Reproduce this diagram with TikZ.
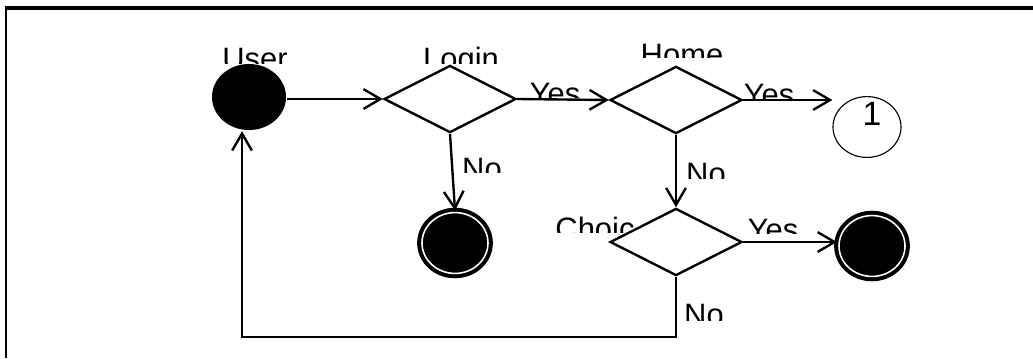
\documentclass[tikz,border=0pt]{standalone}
\usepackage{fontspec}
\setmainfont{Liberation Sans}
\usetikzlibrary{arrows.meta, shapes.geometric}

\begin{document}
\begin{tikzpicture} [x=0.025cm, y=-0.025cm,
          line width = 1.7pt,
          arr/.style = {-{Straight Barb[length=12pt, width=14pt]}},
          start/.style = {ellipse, fill = black, inner sep = 0pt,
              minimum width = 1.85cm, minimum height = 1.65cm},
          decision/.style = {diamond, draw, inner sep = 0pt,
              minimum width = 3.3cm, minimum height = 1.68cm},
          stop/.style = {ellipse, draw, fill = black, inner sep = 0pt,
              line width = 2.9pt, double = white, double distance = 1.1pt,
              minimum width = 1.65cm, minimum height = 1.52cm},
          conn/.style = {ellipse, draw, line width = 0.8pt, inner sep = 0pt,
              minimum width = 1.7cm, minimum height = 1.52cm},
          lbl/.style = {anchor = base, inner sep = 0pt,
              font = \fontsize{22}{26}\selectfont}
          ]
          \useasboundingbox (0,0) rectangle (1033,358);

          % frame
          \draw[line width = 1.8pt] (6,358) -- (6,8);
          \draw[line width = 2.4pt] (5,8) -- (1033,8);

          \node (user) [start] at (249,97) {};
          \node (login) [decision] at (450,99) {};
          \node (home) [decision] at (676,100) {};
          \node (one) [conn] at (867,127) {};
          \node (onetxt) [inner sep = 0pt, font = \fontsize{24}{28}\selectfont]
              at (872,114) {1};
          \node (stop1) [stop] at (455,243) {};
          \node (choice) [decision] at (676,242) {};
          \node (stop2) [stop] at (872,246) {};
          \coordinate (back) at (242,337);

          % Links
          \draw[arr] (user.east |- login.west) -- (login.west);
          \draw[arr] (login.east) -- (home.west);
          \draw[arr] (home.east) -- (home.east -| one.west);
          \draw[arr] (login.south) -- (stop1.north);
          \draw[arr] (home.south) -- (choice.north);
          \draw[arr] (choice.east) -- (choice.east -| stop2.west);
          \draw[arr] (choice.south) |- (back) -- (back |- user.south);

          % cut-off labels
          \foreach \name/\txt/\cx/\top/\cut in {
              tuser/User/255/47/63, tlogin/Login/461/47/63,
              thome/Home/682/43/57, tyes1/Yes/555/82/97,
              tyes2/Yes/769/83/99, tno1/No/482/157/172,
              tno2/No/706/162/178, tchoice/Choic/595/217/232,
              tyes3/Yes/773/218/233, tno3/No/704/303/320}{
            \begin{scope}
              \clip (\cx-60,\top-12) rectangle (\cx+60,\cut);
              \node (\name) [lbl] at (\cx,\top+22) {\txt};
            \end{scope}
          }

        \end{tikzpicture}
\end{document}
